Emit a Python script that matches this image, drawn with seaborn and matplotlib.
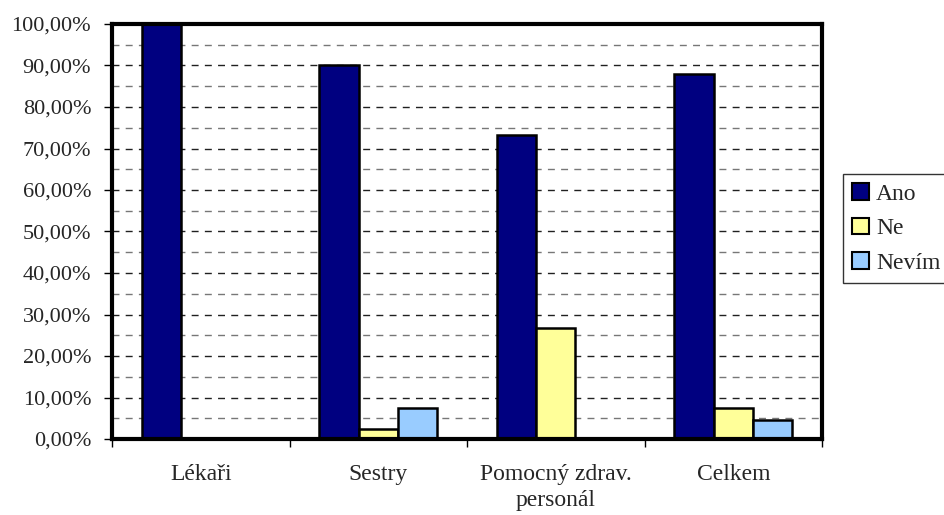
import matplotlib
matplotlib.use("Agg")
import matplotlib.pyplot as plt
import matplotlib.ticker as mticker
from matplotlib.patches import Patch
import seaborn as sns
import pandas as pd

categories = ["Lékaři", "Sestry", "Pomocný zdrav.\npersonál", "Celkem"]
ano = [100.0, 90.0, 73.33, 88.0]
ne = [0.0, 2.5, 26.67, 7.4]
nevim = [0.0, 7.5, 0.0, 4.6]
series_names = ["Ano", "Ne", "Nevím"]
colors = ["#000080", "#FFFF99", "#99CCFF"]

df = pd.DataFrame({
    "kategorie": categories * 3,
    "odpoved": [s for s in series_names for _ in categories],
    "podil": ano + ne + nevim,
})

sns.set_style("white")
plt.rcParams["font.family"] = ["Liberation Serif", "DejaVu Serif"]

fig = plt.figure(figsize=(9.44, 5.15), dpi=100)
ax = fig.add_axes([112 / 944, 76 / 515, 710 / 944, 415 / 515])

sns.barplot(data=df, x="kategorie", y="podil", hue="odpoved",
            hue_order=series_names, order=categories,
            palette=colors, width=0.667, edgecolor="black",
            linewidth=1.8, saturation=1, ax=ax, legend=False)

ax.set_xlim(-0.5, 3.5)
ax.set_ylim(0, 100)
ax.set_xlabel("")
ax.set_ylabel("")

# y axis: labelled every 10 %, dashed guide lines every 5 %
ax.yaxis.set_major_locator(mticker.MultipleLocator(10))
ax.yaxis.set_minor_locator(mticker.MultipleLocator(5))
ax.yaxis.set_major_formatter(mticker.FuncFormatter(
    lambda v, p: f"{v:.2f}%".replace(".", ",")))
ax.set_axisbelow(True)
ax.yaxis.grid(True, which="major", color="#202020", linewidth=1,
              linestyle=(0, (5, 4.5)))
ax.yaxis.grid(True, which="minor", color="#777777", linewidth=1,
              linestyle=(0, (5, 4.5)))
ax.tick_params(axis="y", which="major", direction="out", length=6,
               width=1, color="black", left=True, labelsize=16, pad=9)
ax.tick_params(axis="y", which="minor", length=0)

# x axis: tick marks between categories, labels centred under groups
ax.xaxis.set_major_locator(mticker.FixedLocator([-0.5, 0.5, 1.5, 2.5, 3.5]))
ax.xaxis.set_major_formatter(mticker.NullFormatter())
ax.xaxis.set_minor_locator(mticker.FixedLocator([0, 1, 2, 3]))
ax.xaxis.set_minor_formatter(mticker.FixedFormatter(categories))
ax.tick_params(axis="x", which="major", direction="out", length=6,
               width=1, color="black", bottom=True)
ax.tick_params(axis="x", which="minor", length=0, labelsize=17, pad=18)
for lbl in ax.xaxis.get_minorticklabels():
    lbl.set_horizontalalignment("center")
    lbl.set_multialignment("center")
    lbl.set_linespacing(1.3)

for side in ["left", "right", "top", "bottom"]:
    ax.spines[side].set_visible(True)
    ax.spines[side].set_color("black")
    ax.spines[side].set_linewidth(3)

handles = [Patch(facecolor=c, edgecolor="black", linewidth=1.5, label=n)
           for c, n in zip(colors, series_names)]
leg = fig.legend(handles=handles, loc="upper left",
                 bbox_to_anchor=(843 / 944, 1 - 174 / 515),
                 fontsize=17, frameon=True, fancybox=False,
                 handlelength=0.7, handleheight=0.7, handletextpad=0.3,
                 labelspacing=0.55, borderpad=0.4, borderaxespad=0)
leg.get_frame().set_edgecolor("black")
leg.get_frame().set_linewidth(1)

fig.savefig("out.png", dpi=100)
